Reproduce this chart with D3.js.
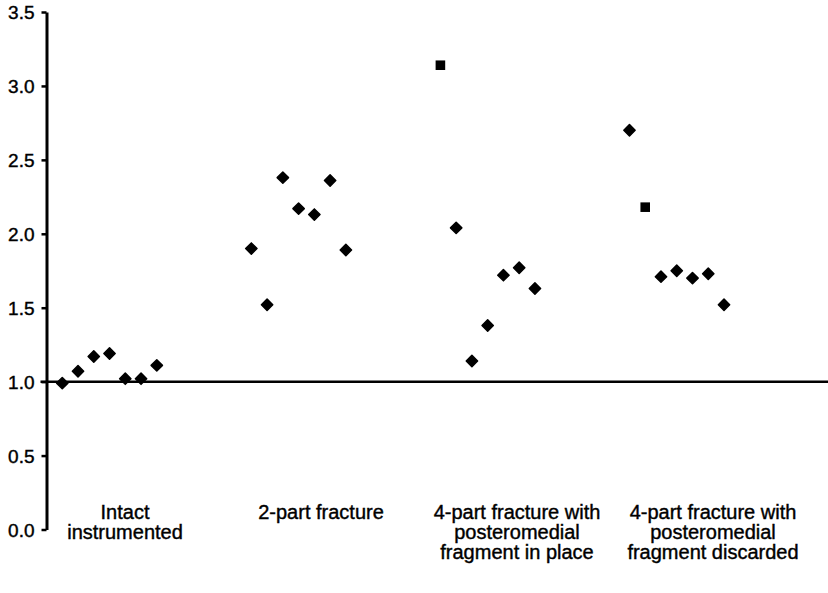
<!DOCTYPE html>
<html>
<head>
<meta charset="utf-8">
<script src="https://cdn.jsdelivr.net/npm/d3@7"></script>
<style>
  html, body { margin: 0; padding: 0; background: #fff; }
  svg { display: block; }
  text { font-family: "Liberation Sans", Arial, Helvetica, sans-serif; fill: #000; stroke: #000; stroke-width: 0.4px; }
</style>
</head>
<body>
<svg id="chart" width="828" height="593"></svg>
<script>
// ---- data ----
const categories = [
  "Intact instrumented",
  "2-part fracture",
  "4-part fracture with posteromedial fragment in place",
  "4-part fracture with posteromedial fragment discarded"
];
const categoryLines = [
  ["Intact", "instrumented"],
  ["2-part fracture"],
  ["4-part fracture with", "posteromedial", "fragment in place"],
  ["4-part fracture with", "posteromedial", "fragment discarded"]
];
const intactValues        = [0.99, 1.07, 1.17, 1.19, 1.02, 1.02, 1.11];
const twoPartValues       = [1.90, 1.52, 2.38, 2.17, 2.13, 2.36, 1.89];
const fourPartInPlace     = [3.14, 2.04, 1.14, 1.38, 1.72, 1.77, 1.63];
const fourPartDiscarded   = [2.70, 2.18, 1.71, 1.75, 1.70, 1.73, 1.52];
// index of the point drawn as a square in each group (null = none)
const squareIndex = [null, null, 0, 1];
const yTicks = [0, 0.5, 1.0, 1.5, 2.0, 2.5, 3.0, 3.5];
const referenceValue = 1.0;

const groups = [intactValues, twoPartValues, fourPartInPlace, fourPartDiscarded];

// ---- layout ----
const svg = d3.select("#chart");
const x = d3.scaleLinear().domain([0, 49.6]).range([46.5, 828]);
const y = d3.scaleLinear().domain([0, 3.5]).range([529.5, 12]);
const band = d3.scaleBand().domain(categories).range([27, 811]);

const points = [];
groups.forEach((vals, g) => {
  vals.forEach((v, i) => {
    points.push({ xi: g * 12 + i + 1, v, square: squareIndex[g] === i });
  });
});

// y axis
const yAxis = d3.axisLeft(y)
  .tickValues(yTicks)
  .tickFormat(d3.format(".1f"))
  .tickSize(5)
  .tickSizeOuter(0)
  .tickPadding(7);
const gy = svg.append("g").attr("transform", `translate(${x(0)},0)`).call(yAxis);
gy.select(".domain").attr("stroke", "#000").attr("stroke-width", 3);
gy.selectAll(".tick line").attr("stroke", "#000").attr("stroke-width", 2.5);
gy.selectAll(".tick text").style("font-size", "19px").attr("fill", "#000").attr("dy", "0.35em");

// reference line at 1.0
svg.append("line")
  .attr("x1", x(0) - 6).attr("x2", 828)
  .attr("y1", y(referenceValue)).attr("y2", y(referenceValue))
  .attr("stroke", "#000").attr("stroke-width", 2.5);

// markers
const diamond = d3.symbol().type(d3.symbolSquare).size(64);
const square = d3.symbol().type(d3.symbolSquare).size(92);
svg.append("g").selectAll("path")
  .data(points)
  .join("path")
  .attr("d", d => d.square ? square() : diamond())
  .attr("transform", d => `translate(${x(d.xi)},${y(d.v)}) rotate(${d.square ? 0 : 45})`)
  .attr("fill", "#000")
  .attr("stroke", "#000")
  .attr("stroke-width", d => d.square ? 0 : 1.5)
  .attr("stroke-linejoin", "round");

// category labels
const labels = svg.append("g");
categories.forEach((c, k) => {
  const cx = band(c) + band.bandwidth() / 2;
  const t = labels.append("text")
    .attr("text-anchor", "middle")
    .style("font-size", "20px")
    .attr("x", cx)
    .attr("y", 519);
  categoryLines[k].forEach((line, j) => {
    t.append("tspan")
      .attr("x", cx)
      .attr("dy", j === 0 ? 0 : 20)
      .text(line);
  });
});
</script>
</body>
</html>
